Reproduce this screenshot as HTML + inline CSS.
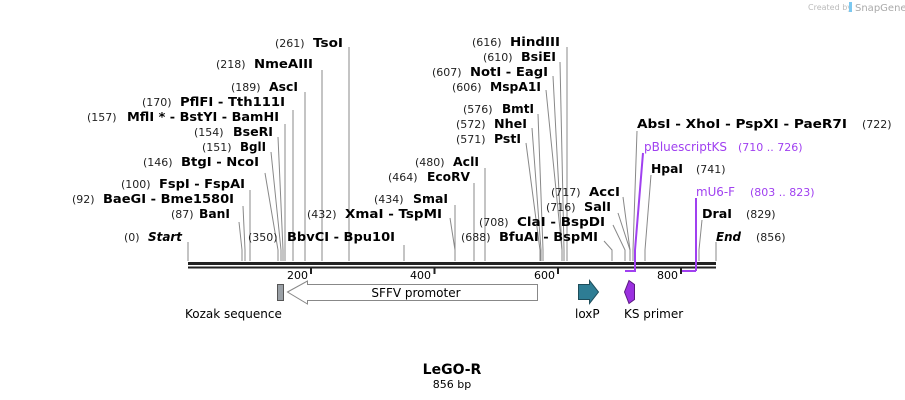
<!DOCTYPE html>
<html><head><meta charset="utf-8"><style>
html,body{margin:0;padding:0;background:#fff;width:905px;height:400px;overflow:hidden}
text{font-family:"DejaVu Sans","Liberation Sans",sans-serif;font-size:11px;fill:#000}
.b{font-weight:bold;font-size:12.5px}
.n{font-size:11px;fill:#222}
.p{fill:#a040f0;font-size:12px}
.l{stroke:#888;stroke-width:1;fill:none}
</style></head><body>
<svg width="905" height="400" xmlns="http://www.w3.org/2000/svg" xml:space="preserve">
<text x="808" y="10" style="font-size:8px;fill:#bbb">Created by</text>
<rect x="849" y="2" width="3" height="10" fill="#7cc8f0"/>
<text x="855" y="11" style="font-size:10px;fill:#aaa">SnapGene</text>

<g class="l">
<path d="M188 242V261"/>
<path d="M349 47V261"/>
<path d="M322 70V261"/>
<path d="M305 92V261"/>
<path d="M293 110V261"/>
<path d="M285 124V261"/>
<path d="M278 137L283 250V261"/>
<path d="M271 152L281 250V261"/>
<path d="M265 173L278 250V261"/>
<path d="M250 190V261"/>
<path d="M243 206L245 250V261"/>
<path d="M239 222L242 250V261"/>
<path d="M404 245V261"/>
<path d="M450 218L455 250V261"/>
<path d="M455 205V261"/>
<path d="M474 183V261"/>
<path d="M485 168V261"/>
<path d="M526 143L540 250V261"/>
<path d="M532 128L541 250V261"/>
<path d="M538 114L543 250V261"/>
<path d="M546 90L562 250V261"/>
<path d="M553 76L562 250V261"/>
<path d="M560 62L564 250V261"/>
<path d="M567 47V261"/>
<path d="M604 241L612 250V261"/>
<path d="M613 225L625 250V261"/>
<path d="M618 213L630 250V261"/>
<path d="M623 197L630 250V261"/>
<path d="M637 131L633 250V261"/>
<path d="M651 175L645 250V261"/>
<path d="M702 220L699 250V261"/>
<path d="M716 242V261"/>
</g>

<rect x="188" y="262" width="528" height="3" fill="#222"/>
<rect x="188" y="266.5" width="528" height="2" fill="#222"/>
<g stroke="#222" stroke-width="2">
<path d="M311 267V274M434.5 267V274M558 267V274M681 267V274"/>
</g>
<text x="308" y="279" text-anchor="end">200</text>
<text x="431" y="279" text-anchor="end">400</text>
<text x="555" y="279" text-anchor="end">600</text>
<text x="678" y="279" text-anchor="end">800</text>

<g stroke="#a040f0" stroke-width="2" fill="none">
<path d="M643 153L635 250V271M625 271H636"/>
<path d="M696 198V271M682 271H696"/>
</g>

<g lengthAdjust="spacingAndGlyphs">
<text class="n" x="275" y="47">(261)</text><text class="b" x="313" y="47" textLength="30" lengthAdjust="spacingAndGlyphs">TsoI</text>
<text class="n" x="216" y="68">(218)</text><text class="b" x="254" y="68" textLength="59" lengthAdjust="spacingAndGlyphs">NmeAIII</text>
<text class="n" x="231" y="91">(189)</text><text class="b" x="269" y="91" textLength="29" lengthAdjust="spacingAndGlyphs">AscI</text>
<text class="n" x="142" y="106">(170)</text><text class="b" x="180" y="106" textLength="105" lengthAdjust="spacingAndGlyphs">PflFI  - Tth111I</text>
<text class="n" x="87" y="121">(157)</text><text class="b" x="127" y="121" textLength="152" lengthAdjust="spacingAndGlyphs">MflI * - BstYI  - BamHI</text>
<text class="n" x="194" y="136">(154)</text><text class="b" x="233" y="136" textLength="40" lengthAdjust="spacingAndGlyphs">BseRI</text>
<text class="n" x="202" y="151">(151)</text><text class="b" x="240" y="151" textLength="26" lengthAdjust="spacingAndGlyphs">BglI</text>
<text class="n" x="143" y="166">(146)</text><text class="b" x="181" y="166" textLength="78" lengthAdjust="spacingAndGlyphs">BtgI  - NcoI</text>
<text class="n" x="121" y="188">(100)</text><text class="b" x="159" y="188" textLength="86" lengthAdjust="spacingAndGlyphs">FspI  - FspAI</text>
<text class="n" x="72" y="203">(92)</text><text class="b" x="103" y="203" textLength="131" lengthAdjust="spacingAndGlyphs">BaeGI  - Bme1580I</text>
<text class="n" x="171" y="218">(87)</text><text class="b" x="199" y="218" textLength="31" lengthAdjust="spacingAndGlyphs">BanI</text>
<text class="n" x="124" y="241">(0)</text><text class="b" x="148" y="241" font-style="italic" textLength="34" lengthAdjust="spacingAndGlyphs">Start</text>
<text class="n" x="248" y="241">(350)</text><text class="b" x="287" y="241" textLength="108" lengthAdjust="spacingAndGlyphs">BbvCI  - Bpu10I</text>
<text class="n" x="307" y="218">(432)</text><text class="b" x="345" y="218" textLength="97" lengthAdjust="spacingAndGlyphs">XmaI  - TspMI</text>
<text class="n" x="374" y="203">(434)</text><text class="b" x="413" y="203" textLength="35" lengthAdjust="spacingAndGlyphs">SmaI</text>
<text class="n" x="388" y="181">(464)</text><text class="b" x="427" y="181" textLength="43" lengthAdjust="spacingAndGlyphs">EcoRV</text>
<text class="n" x="415" y="166">(480)</text><text class="b" x="453" y="166" textLength="26" lengthAdjust="spacingAndGlyphs">AclI</text>
<text class="n" x="472" y="46">(616)</text><text class="b" x="510" y="46" textLength="50" lengthAdjust="spacingAndGlyphs">HindIII</text>
<text class="n" x="483" y="61">(610)</text><text class="b" x="521" y="61" textLength="35" lengthAdjust="spacingAndGlyphs">BsiEI</text>
<text class="n" x="432" y="76">(607)</text><text class="b" x="470" y="76" textLength="78" lengthAdjust="spacingAndGlyphs">NotI  - EagI</text>
<text class="n" x="452" y="91">(606)</text><text class="b" x="490" y="91" textLength="51" lengthAdjust="spacingAndGlyphs">MspA1I</text>
<text class="n" x="463" y="113">(576)</text><text class="b" x="502" y="113" textLength="32" lengthAdjust="spacingAndGlyphs">BmtI</text>
<text class="n" x="456" y="128">(572)</text><text class="b" x="494" y="128" textLength="33" lengthAdjust="spacingAndGlyphs">NheI</text>
<text class="n" x="456" y="143">(571)</text><text class="b" x="494" y="143" textLength="27" lengthAdjust="spacingAndGlyphs">PstI</text>
<text class="n" x="551" y="196">(717)</text><text class="b" x="589" y="196" textLength="31" lengthAdjust="spacingAndGlyphs">AccI</text>
<text class="n" x="546" y="211">(716)</text><text class="b" x="584" y="211" textLength="27" lengthAdjust="spacingAndGlyphs">SalI</text>
<text class="n" x="479" y="226">(708)</text><text class="b" x="517" y="226" textLength="88" lengthAdjust="spacingAndGlyphs">ClaI  - BspDI</text>
<text class="n" x="461" y="241">(688)</text><text class="b" x="499" y="241" textLength="99" lengthAdjust="spacingAndGlyphs">BfuAI  - BspMI</text>

<text class="b" x="637" y="128" textLength="210" lengthAdjust="spacingAndGlyphs">AbsI  - XhoI  - PspXI  - PaeR7I</text><text class="n" x="862" y="128">(722)</text>
<text class="p" x="644" y="151" textLength="83" lengthAdjust="spacingAndGlyphs">pBluescriptKS</text><text class="p" x="738" y="151" style="font-size:11px">(710 .. 726)</text>
<text class="b" x="651" y="173" textLength="32" lengthAdjust="spacingAndGlyphs">HpaI</text><text class="n" x="696" y="173">(741)</text>
<text class="p" x="696" y="196" textLength="39" lengthAdjust="spacingAndGlyphs">mU6-F</text><text class="p" x="750" y="196" style="font-size:11px">(803 .. 823)</text>
<text class="b" x="702" y="218" textLength="30" lengthAdjust="spacingAndGlyphs">DraI</text><text class="n" x="746" y="218">(829)</text>
<text class="b" x="716" y="241" font-style="italic" textLength="25" lengthAdjust="spacingAndGlyphs">End</text><text class="n" x="756" y="241">(856)</text>
</g>

<rect x="277.5" y="284.5" width="6" height="16" fill="#9aa0a6" stroke="#555" stroke-width="1"/>
<path d="M287.5 292L307.5 281V284.5H537.5V300.5H307.5V304Z" fill="#fff" stroke="#888" stroke-width="1"/>
<text x="416" y="297" text-anchor="middle" style="font-size:12px">SFFV promoter</text>
<path d="M578.5 284.5H589.5V280.5L598.5 292L589.5 303.5V299.5H578.5Z" fill="#2e7d94" stroke="#1e4d5a" stroke-width="1"/>
<path d="M634.5 284.5V299.5L629 303.5L624.5 292L629 280.5Z" fill="#9b30e0" stroke="#5a1a80" stroke-width="1"/>
<text x="185" y="318" style="font-size:12px">Kozak sequence</text>
<text x="575" y="318" style="font-size:12px">loxP</text>
<text x="624" y="318" style="font-size:12px">KS primer</text>

<text x="452" y="374" text-anchor="middle" class="b" style="font-size:14px">LeGO-R</text>
<text x="452" y="388" text-anchor="middle" style="font-size:11px">856 bp</text>
</svg>
</body></html>
